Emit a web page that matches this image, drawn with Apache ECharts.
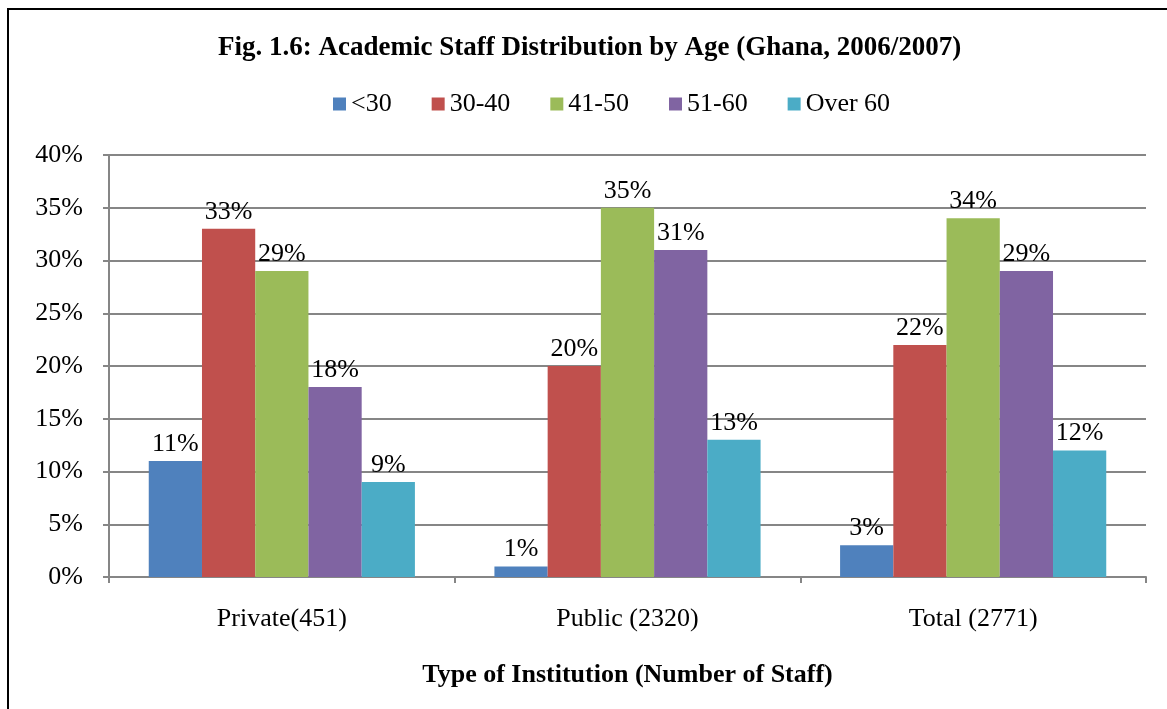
<!DOCTYPE html>
<html>
<head>
<meta charset="utf-8">
<script src="https://cdn.jsdelivr.net/npm/echarts@6/dist/echarts.min.js"></script>
<style>
  html, body { margin: 0; padding: 0; background: #fff; }
  #chart { width: 1167px; height: 709px; }
</style>
</head>
<body>
<div id="chart"></div>
<script>
var categories = ['Private(451)', 'Public (2320)', 'Total (2771)'];
var ageGroups = ['<30', '30-40', '41-50', '51-60', 'Over 60'];
var under30 = [11, 1, 3];
var age30to40 = [33, 20, 22];
var age41to50 = [29, 35, 34];
var age51to60 = [18, 31, 29];
var over60 = [9, 13, 12];
var yTicks = [0, 5, 10, 15, 20, 25, 30, 35, 40];

var colors = ['#4F81BD', '#C0504D', '#9BBB59', '#8064A2', '#4BACC6'];
var seriesValues = [under30, age30to40, age41to50, age51to60, over60];
var font = 'Liberation Serif, Times New Roman, serif';
var fs = 26;

var myChart = echarts.init(document.getElementById('chart'));

var series = [];
for (var i = 0; i < ageGroups.length; i++) {
    series.push({
        name: ageGroups[i],
        type: 'bar',
        data: seriesValues[i],
        barGap: '0%',
        barCategoryGap: '23%',
        itemStyle: { color: colors[i] },
        label: {
            show: true,
            position: 'top',
            distance: 4,
            formatter: '{c}%',
            color: '#000',
            fontFamily: font,
            fontSize: fs
        }
    });
}

var option = {
    animation: false,
    color: colors,
    title: {
        text: 'Fig. 1.6: Academic Staff Distribution by Age (Ghana, 2006/2007)',
        left: 218,
        top: 35,
        padding: 0,
        textStyle: { fontFamily: font, fontSize: 27, fontWeight: 'bold', color: '#000' }
    },
    legend: {
        data: ageGroups,
        left: 333,
        top: 91,
        padding: 0,
        icon: 'rect',
        itemWidth: 13,
        itemHeight: 13,
        itemGap: 40,
        textStyle: { fontFamily: font, fontSize: fs, color: '#000' }
    },
    grid: { left: 109, right: 21, top: 155, bottom: 132, containLabel: false },
    graphic: [{
        type: 'rect',
        shape: { x: 8, y: 9, width: 1200, height: 760 },
        style: { fill: 'none', stroke: '#000', lineWidth: 2 },
        silent: true
    }],
    xAxis: {
        type: 'category',
        data: categories,
        name: 'Type of Institution (Number of Staff)',
        nameLocation: 'middle',
        nameGap: 85,
        nameTextStyle: { fontFamily: font, fontSize: fs, fontWeight: 'bold', color: '#000' },
        axisLine: { lineStyle: { color: '#868686', width: 2 } },
        axisTick: { show: true, length: 6, lineStyle: { color: '#868686', width: 2 } },
        axisLabel: { margin: 29, fontFamily: font, fontSize: fs, color: '#000' }
    },
    yAxis: {
        type: 'value',
        min: yTicks[0],
        max: yTicks[yTicks.length - 1],
        interval: yTicks[1] - yTicks[0],
        axisLine: { show: true, lineStyle: { color: '#868686', width: 2 } },
        axisTick: { show: true, length: 6, lineStyle: { color: '#868686', width: 2 } },
        axisLabel: { margin: 26, formatter: '{value}%', fontFamily: font, fontSize: fs, color: '#000' },
        splitLine: { lineStyle: { color: '#868686', width: 2 } }
    },
    series: series
};

myChart.setOption(option);
</script>
</body>
</html>
